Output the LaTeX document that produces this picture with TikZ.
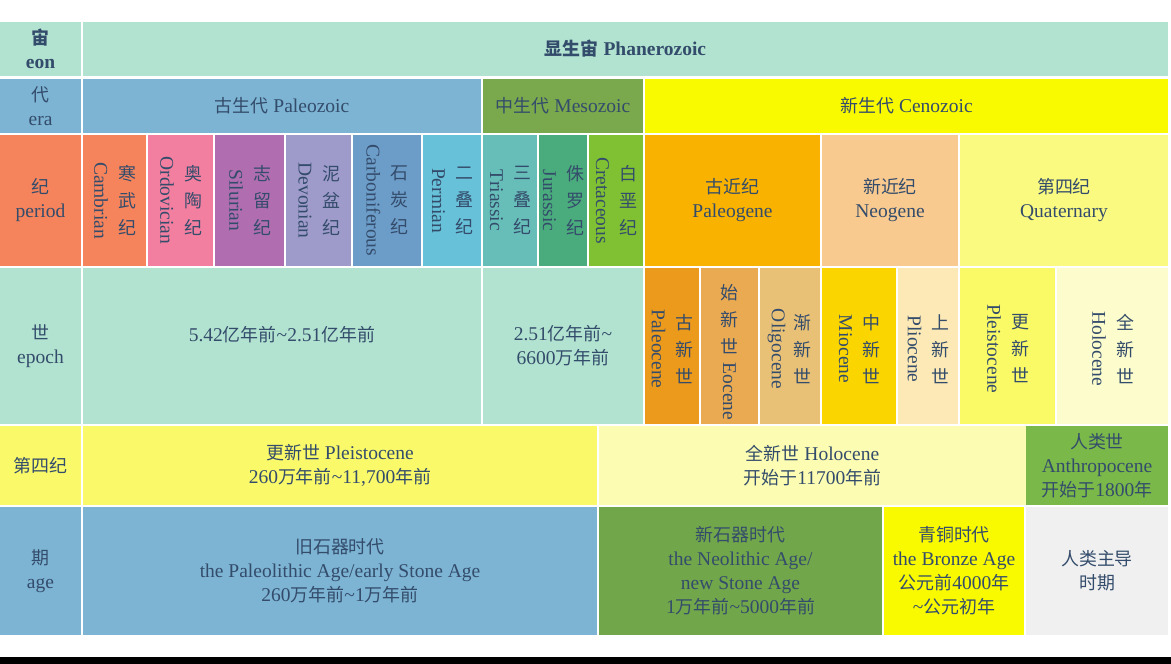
\documentclass[tikz,border=0pt]{standalone}
\usepackage{fontspec}
\setmainfont{Liberation Serif}
\newfontfamily\cjk{Noto Sans CJK SC}[Scale=0.92]
\usepackage{xcolor}
\usetikzlibrary{positioning}
\definecolor{ink}{HTML}{344C6B}
\definecolor{mint}{HTML}{B2E3D0}
\definecolor{skyblue}{HTML}{7DB4D3}
\definecolor{mesozoic}{HTML}{7AA84C}
\definecolor{cenozoic}{HTML}{F9F900}
\definecolor{cambrian}{HTML}{F5845C}
\definecolor{ordovician}{HTML}{F27FA0}
\definecolor{silurian}{HTML}{B06EB0}
\definecolor{devonian}{HTML}{9E9BCB}
\definecolor{carboniferous}{HTML}{6C9CC8}
\definecolor{permian}{HTML}{67C1D8}
\definecolor{triassic}{HTML}{67BEB9}
\definecolor{jurassic}{HTML}{4AAB7C}
\definecolor{cretaceous}{HTML}{7FC132}
\definecolor{paleogene}{HTML}{F9B200}
\definecolor{neogene}{HTML}{F9CA8F}
\definecolor{quaternary}{HTML}{FAFA80}
\definecolor{paleocene}{HTML}{EC9A1C}
\definecolor{eocene}{HTML}{EAAA52}
\definecolor{oligocene}{HTML}{E8C177}
\definecolor{miocene}{HTML}{FBD500}
\definecolor{pliocene}{HTML}{FCE9B5}
\definecolor{pleistocene}{HTML}{FAFA66}
\definecolor{holocene}{HTML}{FCFCCC}
\definecolor{pleistoQ}{HTML}{F9F96A}
\definecolor{holoQ}{HTML}{FCFCB2}
\definecolor{anthropo}{HTML}{7AB84A}
\definecolor{neolithic}{HTML}{72A64A}
\definecolor{bronze}{HTML}{F9F900}
\definecolor{humangray}{HTML}{F0F0F0}
\newcommand{\cellfont}{\fontsize{19.5}{24}\selectfont}
\newcommand{\til}{\textasciitilde}
\tikzset{
    cell/.style={rectangle, inner sep=0pt, align=center, text=ink, font=\cellfont},
    vlat/.style={rotate=-90, inner sep=0pt, text=ink, font=\cellfont},
    vcjk/.style={align=center, inner sep=0pt, text=ink, font=\cjk\fontsize{19.5}{27}\selectfont}
}
\begin{document}
\begin{tikzpicture}[x=1pt, y=-1pt]

% Page and bottom band
\fill[white] (0,0) rectangle (1171,664);
\fill[black] (0,657) rectangle (1171,664);

% Eon
\node[cell, fill=mint, minimum width=81, minimum height=54, font=\cellfont\bfseries] (eonLab) at (40.5,49) {{\cjk 宙}\\eon};
\node[cell, fill=mint, minimum width=1085, minimum height=54, font=\cellfont\bfseries] (phanerozoic) at (625.5,49) {{\cjk 显生宙} Phanerozoic};

% Eras
\node[cell, fill=skyblue, minimum width=81, minimum height=54] (eraLab) at (40.5,106) {{\cjk 代}\\era};
\node[cell, fill=skyblue, minimum width=398, minimum height=54] (paleozoic) at (282,106) {{\cjk 古生代} Paleozoic};
\node[cell, fill=mesozoic, minimum width=160, minimum height=54] (mesozoicEra) at (563,106) {{\cjk 中生代} Mesozoic};
\node[cell, fill=cenozoic, minimum width=523, minimum height=54] (cenozoicEra) at (906.5,106) {{\cjk 新生代} Cenozoic};

% Periods
\node[cell, fill=cambrian, minimum width=81, minimum height=131] (periodLab) at (40.5,200.5) {{\cjk 纪}\\period};
\foreach \nm/\cx/\w/\en/\zh in {
    cambrian/114.5/63/Cambrian/寒\\武\\纪,
    ordovician/180.5/65/Ordovician/奥\\陶\\纪,
    silurian/249.5/69/Silurian/志\\留\\纪,
    devonian/318.5/65/Devonian/泥\\盆\\纪,
    carboniferous/387/68/Carboniferous/石\\炭\\纪,
    permian/452/58/Permian/二\\叠\\纪,
    triassic/510/54/Triassic/三\\叠\\纪,
    jurassic/563/48/Jurassic/侏\\罗\\纪,
    cretaceous/616/54/Cretaceous/白\\垩\\纪}{
    \node[cell, fill=\nm, minimum width=\w, minimum height=131] (\nm) at (\cx,200.5) {};
    \node[vlat] (\nm En) at ([xshift=-13.5pt]\nm.center) {\en};
    \node[vcjk] (\nm Zh) at ([xshift=12.5pt]\nm.center) {\zh};
}
\node[cell, fill=paleogene, minimum width=175, minimum height=131] (paleogeneP) at (732.5,200.5) {{\cjk 古近纪}\\Paleogene};
\node[cell, fill=neogene, minimum width=136, minimum height=131] (neogeneP) at (890,200.5) {{\cjk 新近纪}\\Neogene};
\node[cell, fill=quaternary, minimum width=208, minimum height=131] (quaternaryP) at (1064,200.5) {{\cjk 第四纪}\\Quaternary};

% Epochs
\node[cell, fill=mint, minimum width=81, minimum height=156] (epochLab) at (40.5,346) {{\cjk 世}\\epoch};
\node[cell, fill=mint, minimum width=398, minimum height=156] (paleozoicEp) at (282,346) {5.42{\cjk 亿年前}\til 2.51{\cjk 亿年前}\\\mbox{}};
\node[cell, fill=mint, minimum width=160, minimum height=156] (mesozoicEp) at (563,346) {2.51{\cjk 亿年前}\til\\6600{\cjk 万年前}};
\foreach \nm/\cx/\w/\en/\zh in {
    paleocene/672/54/Paleocene/古\\新\\世,
    oligocene/790/60/Oligocene/渐\\新\\世,
    miocene/859/74/Miocene/中\\新\\世,
    pliocene/928/60/Pliocene/上\\新\\世,
    pleistocene/1007.5/95/Pleistocene/更\\新\\世,
    holocene/1112.5/111/Holocene/全\\新\\世}{
    \node[cell, fill=\nm, minimum width=\w, minimum height=156] (\nm) at (\cx,346) {};
    \node[vlat] (\nm En) at ([xshift=-13.5pt, yshift=-3pt]\nm.center) {\en};
    \node[vcjk] (\nm Zh) at ([xshift=12.5pt, yshift=-3pt]\nm.center) {\zh};
}
\node[cell, fill=eocene, minimum width=57, minimum height=156] (eocene) at (729.5,346) {};
\node[vcjk] (eoceneZh) at (729.5,319.5) {始\\新\\世};
\node[vlat] (eoceneEn) at (729.5,391.5) {Eocene};

% Quaternary detail
\node[cell, fill=pleistoQ, minimum width=81, minimum height=79] (quatLab) at (40.5,465.5) {{\cjk 第四纪}};
\node[cell, fill=pleistoQ, minimum width=514, minimum height=79] (pleistoQ) at (340,465.5) {{\cjk 更新世} Pleistocene\\260{\cjk 万年前}\til 11,700{\cjk 年前}};
\node[cell, fill=holoQ, minimum width=427, minimum height=79] (holoQ) at (812.5,465.5) {{\cjk 全新世} Holocene\\{\cjk 开始于}11700{\cjk 年前}};
\node[cell, fill=anthropo, minimum width=142, minimum height=79] (anthropo) at (1097,465.5) {{\cjk 人类世}\\Anthropocene\\{\cjk 开始于}1800{\cjk 年}};

% Ages
\node[cell, fill=skyblue, minimum width=81, minimum height=128] (ageLab) at (40.5,571) {{\cjk 期}\\age};
\node[cell, fill=skyblue, minimum width=514, minimum height=128] (paleolithic) at (340,571) {{\cjk 旧石器时代}\\the Paleolithic Age/early Stone Age\\260{\cjk 万年前}\til 1{\cjk 万年前}};
\node[cell, fill=neolithic, minimum width=283, minimum height=128] (neolithic) at (740.5,571) {{\cjk 新石器时代}\\the Neolithic Age/\\new Stone Age\\1{\cjk 万年前}\til 5000{\cjk 年前}};
\node[cell, fill=bronze, minimum width=140, minimum height=128] (bronze) at (954,571) {{\cjk 青铜时代}\\the Bronze Age\\{\cjk 公元前}4000{\cjk 年}\\\til{\cjk 公元初年}};
\node[cell, fill=humangray, minimum width=142, minimum height=128] (humanAge) at (1097,571) {{\cjk 人类主导}\\{\cjk 时期}};

\end{tikzpicture}
\end{document}
